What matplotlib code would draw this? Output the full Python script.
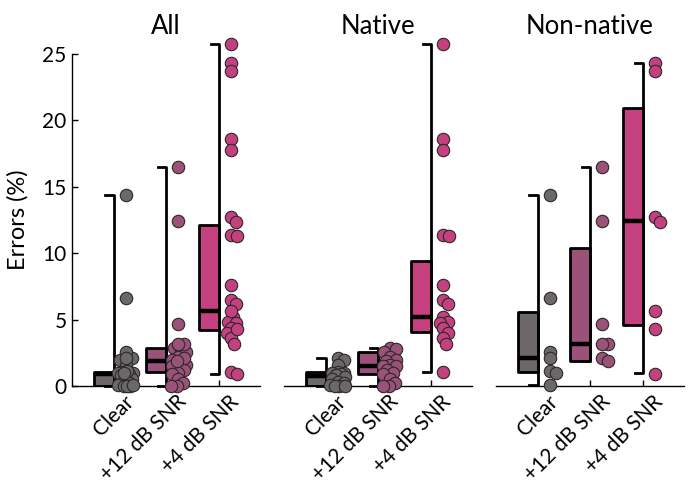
import numpy as np
import matplotlib
matplotlib.use('Agg')
import matplotlib.pyplot as plt
import matplotlib.transforms as mtransforms

plt.rcParams['font.family'] = ['Lato', 'DejaVu Sans']

conds = ['Clear', '+12 dB SNR', '+4 dB SNR']
groups = ['All', 'Native', 'Non-native']
colors = ['#6c6768', '#9b5178', '#c4407f']

# individual listeners (errors %)
native_clear = [2.1, 2.0, 1.6, 1.1, 1.0, 1.0, 0.9, 0.8, 0.7, 0.5, 0.3, 0.2, 0.1, 0.0, 0.0, 0.0]
native_12 = [2.84, 2.8, 2.6, 2.2, 2.0, 1.9, 1.6, 1.5, 1.5, 1.2, 1.0, 0.9, 0.5, 0.2, 0.0, 0.0]
native_4 = [25.75, 18.6, 17.8, 11.4, 11.3, 7.6, 6.5, 6.2, 5.2, 4.84, 4.77, 4.34, 3.97, 3.6, 3.2, 1.08]
nonnat_clear = [14.4, 6.6, 2.6, 2.1, 1.15, 1.0, 0.05]
nonnat_12 = [16.5, 12.4, 4.7, 3.14, 3.14, 2.13, 1.88]
nonnat_4 = [24.3, 23.7, 12.75, 12.37, 5.65, 4.29, 0.88]

# box summaries: [lo whisker, q1, median, q3, hi whisker]
box_all = [[0.0, 0.0, 0.9, 1.05, 14.4],
           [0.0, 1.03, 1.88, 2.84, 16.5],
           [0.9, 4.2, 5.65, 12.1, 25.75]]
box_native = [[0.0, 0.0, 0.75, 1.05, 2.1],
              [0.0, 0.92, 1.5, 2.6, 2.84],
              [1.08, 4.04, 5.17, 9.4, 25.75]]
box_nonnat = [[0.07, 1.03, 2.08, 5.55, 14.4],
              [1.9, 1.9, 3.14, 10.4, 16.5],
              [0.95, 4.6, 12.4, 20.9, 24.3]]

data = {
    'Native': [native_clear, native_12, native_4],
    'Non-native': [nonnat_clear, nonnat_12, nonnat_4],
}
data['All'] = [data['Native'][i] + data['Non-native'][i] for i in range(3)]
boxes = {'All': box_all, 'Native': box_native, 'Non-native': box_nonnat}

XLIM = (0.21, 3.78)
YLIM = (0, 25)


def swarm(vals, ax, base, dmin=6.0, step=1.5, maxoff=8):
    # simple beeswarm in pixel space, returns x in data units
    trans = ax.transData
    pts = []
    xs = np.zeros(len(vals))
    bx_pix = trans.transform((base, 0))[0]
    px_per_x = trans.transform((base + 1, 0))[0] - bx_pix
    order = np.argsort(vals)[::-1]
    offs = [0]
    k = 1
    while k * step <= maxoff:
        offs += [k * step, -k * step]
        k += 1
    for i in order:
        ypix = trans.transform((0, vals[i]))[1]
        best, bestd = 0, -1
        for o in offs:
            if pts:
                d = min(np.hypot(o - p[0], ypix - p[1]) for p in pts)
            else:
                d = 1e9
            if d >= dmin:
                best = o
                break
            if d > bestd:
                best, bestd = o, d
        pts.append((best, ypix))
        xs[i] = base + best / px_per_x
    return xs


fig = plt.figure(figsize=(6.88, 4.90), dpi=100)
lefts = [0.1047, 0.4128, 0.7209]

for g, name in enumerate(groups):
    ax = fig.add_axes([lefts[g], 0.212, 0.2733, 0.678])
    ax.set_xlim(XLIM)
    ax.set_ylim(YLIM)
    for s in ['top', 'right']:
        ax.spines[s].set_visible(False)
    ax.spines['bottom'].set_linewidth(1.0)
    if g == 0:
        ax.spines['left'].set_linewidth(1.0)
        ax.set_yticks([0, 5, 10, 15, 20, 25])
        ax.set_ylabel('Errors (%)', fontsize=17, labelpad=10)
    else:
        ax.spines['left'].set_visible(False)
        ax.set_yticks([])
    ax.tick_params(axis='both', direction='in', length=4, width=1.0,
                   labelsize=15, pad=4)

    for c in range(3):
        x = c + 1
        lo, q1, med, q3, hi = boxes[name][c]
        ax.fill_between([x - 0.38, x], q1, q3, facecolor=colors[c],
                        edgecolor='black', linewidth=2.0, zorder=2)
        ax.plot([x - 0.38, x], [med, med], color='black', lw=3.2,
                solid_capstyle='butt', zorder=3)
        ax.plot([x - 0.16, x, x, x - 0.16], [lo, lo, hi, hi], color='black',
                lw=2.0, zorder=3, clip_on=False)
        vals = np.array(data[name][c])
        xs = swarm(vals, ax, x + 0.23)
        ax.scatter(xs, vals, s=80, facecolor=colors[c], edgecolor='#2a2a2a',
                   linewidth=0.8, zorder=4, clip_on=False)

    ax.set_xticks([1, 2, 3])
    off = mtransforms.ScaledTranslation(10 / 100, 0 / 100, fig.dpi_scale_trans)
    ax.set_xticklabels(conds, rotation=45, ha='right', va='top',
                       rotation_mode='anchor', fontsize=15)
    for lab in ax.get_xticklabels():
        lab.set_transform(lab.get_transform() + off)
    ax.set_title(name, fontsize=18.5, pad=14)

fig.savefig('out.png', dpi=100)
